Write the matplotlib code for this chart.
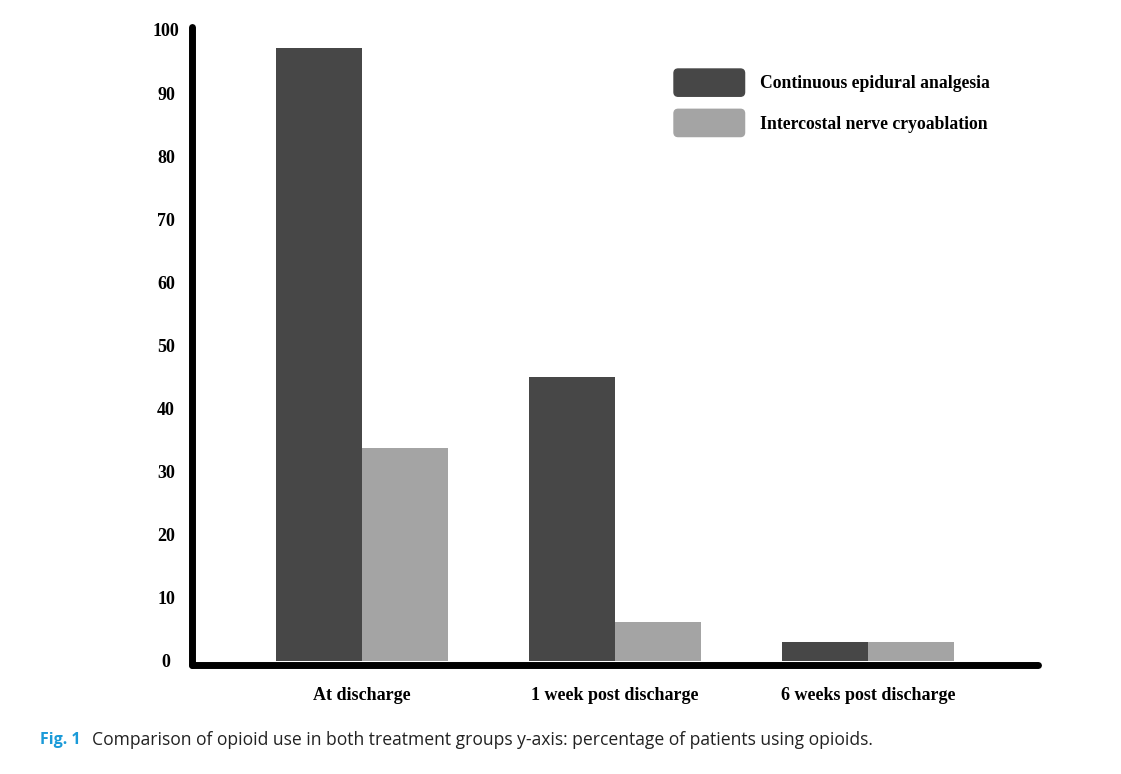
import matplotlib
matplotlib.use("Agg")
import matplotlib.pyplot as plt
from matplotlib.patches import FancyBboxPatch, Patch
from matplotlib.legend_handler import HandlerPatch
import numpy as np

categories = ["At discharge", "1 week post discharge", "6 weeks post discharge"]
epidural = [97.1, 45.0, 2.9]
cryo = [33.7, 6.2, 2.9]
series_names = ["Continuous epidural analgesia", "Intercostal nerve cryoablation"]
yticks = [0, 10, 20, 30, 40, 50, 60, 70, 80, 90, 100]

DARK = "#474747"
LIGHT = "#a4a4a4"
SERIF = ["Liberation Serif", "DejaVu Serif"]

W, H = 1121, 774
fig = plt.figure(figsize=(W / 100, H / 100), dpi=100)
ax_left, ax_right = 192 / W, 1038 / W
ax_bottom, ax_top = 1 - 664.5 / H, 1 - 26.8 / H
ax = fig.add_axes([ax_left, ax_bottom, ax_right - ax_left, ax_top - ax_bottom])

x = np.arange(len(categories))
bw = 0.34
ax.bar(x - bw / 2, epidural, width=bw, color=DARK, label=series_names[0])
ax.bar(x + bw / 2, cryo, width=bw, color=LIGHT, label=series_names[1])

ax.set_xlim(-0.672, 2.672)
ax.set_ylim(-0.6, 100.5)

for s in ["top", "right"]:
    ax.spines[s].set_visible(False)
for s in ["left", "bottom"]:
    ax.spines[s].set_linewidth(5)
    ax.spines[s].set_capstyle("round")
    ax.spines[s].set_color("black")

ax.set_yticks(yticks)
ax.set_yticklabels([str(t) for t in yticks], fontfamily=SERIF, fontweight="bold",
                   fontsize=13, ha="center")
ax.tick_params(axis="y", length=0, pad=18.7)
ax.set_xticks(x)
ax.set_xticklabels(categories, fontfamily=SERIF, fontweight="bold", fontsize=13)
ax.tick_params(axis="x", length=0, pad=16)


def rounded_patch(legend, orig_handle, xdescent, ydescent, width, height, fontsize):
    return FancyBboxPatch((-xdescent + 2, -ydescent + 2), width - 4, height - 4,
                          boxstyle="round,pad=2,rounding_size=3",
                          mutation_aspect=1)


handles = [Patch(color=DARK, label=series_names[0]), Patch(color=LIGHT, label=series_names[1])]
leg = fig.legend(handles=handles, loc="upper left",
                 bbox_to_anchor=(674 / W, 1 - 69 / H),
                 frameon=False, borderpad=0, borderaxespad=0,
                 handlelength=4.0, handleheight=2.0, handletextpad=0.9,
                 labelspacing=0.74,
                 prop={"family": SERIF, "weight": "bold", "size": 12.7},
                 handler_map={Patch: HandlerPatch(patch_func=rounded_patch)})

# Caption
fig.text(40 / W, 1 - 740 / H, "Fig. 1", color="#1a9ad8", fontweight="bold",
         fontfamily=["Open Sans", "DejaVu Sans"], fontsize=11.5, va="center", ha="left")
cap = fig.text(92 / W, 1 - 740 / H,
               "Comparison of opioid use in both treatment groups y-axis: percentage of patients using opioids.",
               color="#222222", fontfamily=["Open Sans", "DejaVu Sans"], fontsize=12,
               va="center", ha="left")
fig.canvas.draw()
bb = cap.get_window_extent()
cap.set_fontsize(12 * 778 / bb.width)

fig.savefig("out.png", dpi=100)
